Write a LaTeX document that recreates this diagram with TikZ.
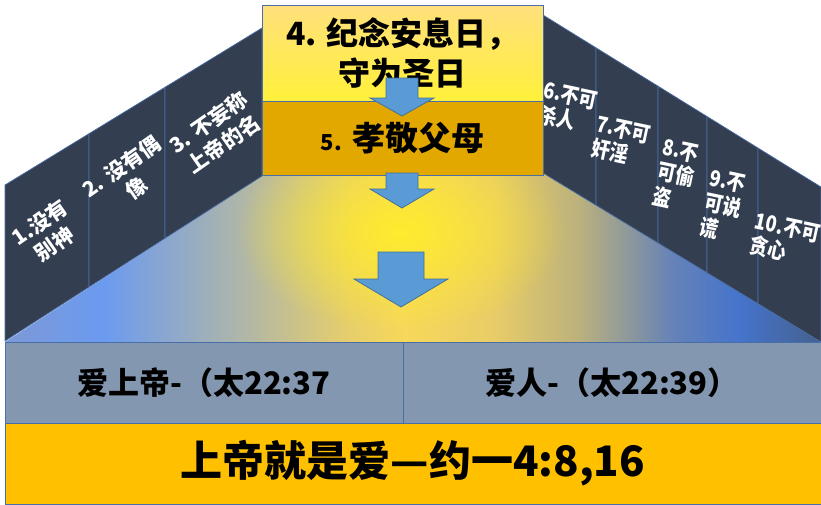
\documentclass[tikz,border=0pt]{standalone}
\usepackage{fontspec}
\setmainfont{Noto Sans CJK SC}
\usetikzlibrary{fadings}

\definecolor{slate}{HTML}{333F50}
\definecolor{edgeblue}{HTML}{4A6EA8}
\definecolor{arrowblue}{HTML}{5B9BD5}
\definecolor{arrowedge}{HTML}{41719C}
\definecolor{paleyellow}{HTML}{FFE07C}
\definecolor{brightyellow}{HTML}{FFF03A}
\definecolor{gold}{HTML}{E3A800}
\definecolor{rowgray}{HTML}{8497B0}
\definecolor{amber}{HTML}{FFC000}
\definecolor{glow}{HTML}{FFEB2E}
\definecolor{fl0}{HTML}{7D99D6}
\definecolor{fl1}{HTML}{6B9AF0}
\definecolor{fl2}{HTML}{B3B8A4}
\definecolor{fl3}{HTML}{E6CE6C}
\definecolor{fl4}{HTML}{F7D85A}
\definecolor{fl5}{HTML}{E8CC68}
\definecolor{fl6}{HTML}{BDB27C}
\definecolor{fl7}{HTML}{6482B8}
\definecolor{fl8}{HTML}{4574CC}
\definecolor{fl9}{HTML}{45608E}
\pgfdeclarehorizontalshading{floorshade}{100bp}{color(0bp)=(fl0); color(25bp)=(fl0); color(31bp)=(fl1); color(40bp)=(fl2); color(46bp)=(fl3); color(49.5bp)=(fl4); color(55bp)=(fl5); color(60bp)=(fl6); color(66bp)=(fl7); color(70bp)=(fl8); color(75bp)=(fl9); color(100bp)=(fl9)}
\tikzfading[name=glowfade, inner color=transparent!0, outer color=transparent!100]

\begin{document}
\begin{tikzpicture}[x=1pt,y=-1pt,
    panel/.style={fill=slate,draw=edgeblue,line width=0.7pt},
    lefttext/.style={text=white,rotate=35,align=center,inner sep=0pt,font=\bfseries\fontsize{21}{26}\selectfont},
    righttext/.style={text=white,rotate=-12,xscale=0.84,align=left,inner sep=0pt,font=\bfseries\fontsize{22}{25}\selectfont},
    topbox/.style={draw=edgeblue,line width=0.7pt,minimum width=281pt,inner sep=0pt,align=center},
    rowbox/.style={draw=edgeblue,line width=0.8pt,fill=rowgray,minimum height=81pt,inner sep=0pt,font=\bfseries\fontsize{31}{34}\selectfont},
    blockarrow/.style={fill=arrowblue,draw=arrowedge,line width=0.8pt}]
    \useasboundingbox (0,0) rectangle (821,504);
    \begin{scope}
        \clip (5,342) -- (262,176) -- (543,173) -- (821,342) -- cycle;
        \shade[shading=floorshade] (5,165) rectangle (821,342);
        \fill[glow,path fading=glowfade] (400,232) ellipse [x radius=165,y radius=100];
    \end{scope}
    \foreach \a/\b in {5/89,89/165,165/262}
        \draw[panel] (\a,{185-0.6109*(\a-5)}) -- (\b,{185-0.6109*(\b-5)}) -- (\b,{341-0.642*(\b-5)}) -- (\a,{341-0.642*(\a-5)}) -- cycle;
    \foreach \a/\b in {543/596,596/658,658/707,707/758,758/821}
        \draw[panel] (\a,{15+0.6187*(\a-543)}) -- (\b,{15+0.6187*(\b-543)}) -- (\b,{173+0.608*(\b-543)}) -- (\a,{173+0.608*(\a-543)}) -- cycle;
    \node[lefttext] (cmd1) at (47,233) {1.没有\\别神};
    \node[lefttext] (cmd2) at (129,177) {2. 没有偶\\像};
    \node[lefttext] (cmd3) at (216,133) {3. 不妄称\\上帝的名};
    \node[righttext] (cmd6) at (568,108) {6.不可\\杀人};
    \node[righttext] (cmd7) at (621,142) {7.不可\\奸淫};
    \node[righttext] (cmd8) at (676,175) {8.不\\可偷\\盗};
    \node[righttext] (cmd9) at (723,206) {9.不\\可说\\谎};
    \node[righttext] (cmd10) at (785,240) {10.不可\\贪心};
    \node[topbox,minimum height=96pt,top color=paleyellow,bottom color=brightyellow,font=\bfseries\fontsize{32}{40}\selectfont] (cmd4) at (402.5,53) {4. 纪念安息日，\\守为圣日};
    \node[topbox,minimum height=74pt,fill=gold,font=\bfseries\fontsize{33}{36}\selectfont] (cmd5) at (402.5,138) {{\fontsize{22}{24}\selectfont 5.} 孝敬父母};
    \foreach \x/\t/\s/\b/\h/\p in {402/78/16/98/32/116,402/173/16/189/32/208,401/252/23/279/47/307}
        \draw[blockarrow] ({\x-\s},\t) -- ({\x+\s},\t) -- ({\x+\s},\b) -- ({\x+\h},\b) -- (\x,\p) -- ({\x-\h},\b) -- ({\x-\s},\b) -- cycle;
    \node[rowbox,minimum width=398pt] (lovegod) at (204,382.5) {爱上帝-（太22:37};
    \node[rowbox,minimum width=418pt] (loveman) at (612,382.5) {爱人-（太22:39）};
    \node[rowbox,fill=amber,minimum width=816pt,font=\bfseries\fontsize{42}{46}\selectfont] (godislove) at (413,463.5) {上帝就是爱—约一4:8,16};
\end{tikzpicture}
\end{document}
